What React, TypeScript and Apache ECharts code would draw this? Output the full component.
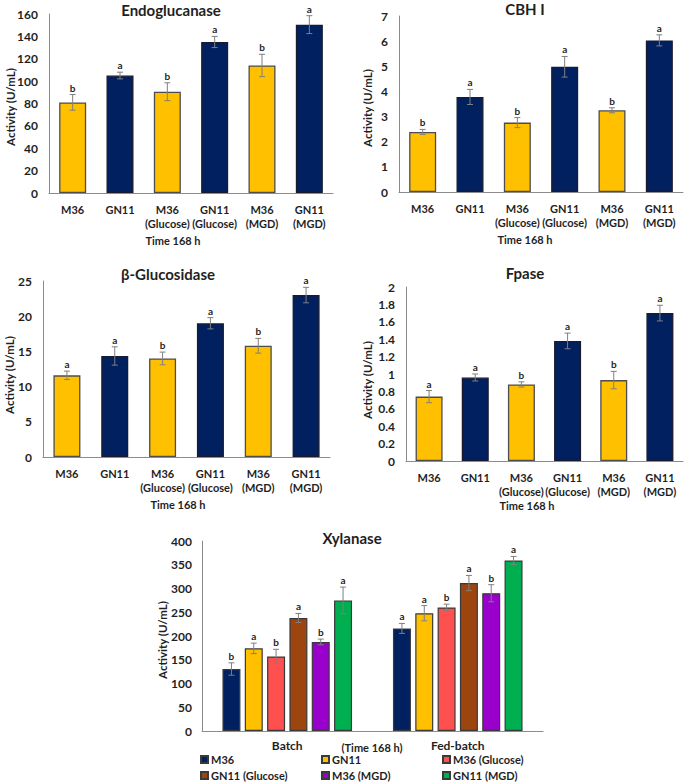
import React, { useEffect, useRef } from "react";
import * as echarts from "echarts";

// ---------- data ----------
const strainCategories = ["M36", "GN11", "M36\n(Glucose)", "GN11\n(Glucose)", "M36\n(MGD)", "GN11\n(MGD)"];
const strainIsGN11 = [false, true, false, true, false, true];

const endoValues = [81, 105, 90.5, 135, 114, 150.5];
const endoErrors = [7, 3, 8, 5, 10, 8];
const endoLetters = ["b", "a", "b", "a", "b", "a"];
const endoTicks = { min: 0, max: 160, interval: 20 };

const cbhValues = [2.39, 3.78, 2.76, 4.98, 3.25, 6.03];
const cbhErrors = [0.1, 0.3, 0.2, 0.41, 0.1, 0.22];
const cbhLetters = ["b", "a", "b", "a", "b", "a"];
const cbhTicks = { min: 0, max: 7, interval: 1 };

const bglValues = [11.6, 14.35, 14.0, 19.0, 15.8, 23.0];
const bglErrors = [0.6, 1.3, 0.9, 0.8, 1.05, 1.1];
const bglLetters = ["a", "a", "b", "a", "b", "a"];
const bglTicks = { min: 0, max: 25, interval: 5 };

const fpValues = [0.74, 0.96, 0.88, 1.38, 0.93, 1.7];
const fpErrors = [0.07, 0.04, 0.03, 0.09, 0.1, 0.09];
const fpLetters = ["a", "a", "b", "a", "b", "a"];
const fpTicks = { min: 0, max: 2, interval: 0.2 };

const xylCategories = ["Batch", "Fed-batch"];
const xylSeriesNames = ["M36", "GN11", "M36 (Glucose)", "GN11 (Glucose)", "M36 (MGD)", "GN11 (MGD)"];
const xylBatch = [130.5, 174, 157, 238, 187.5, 275];
const xylBatchErr = [13, 11, 15, 9.5, 6, 28];
const xylBatchLetters = ["b", "a", "b", "a", "b", "a"];
const xylFed = [216, 248, 260, 311.5, 290, 359];
const xylFedErr = [10.5, 16, 7, 16, 18, 8.5];
const xylFedLetters = ["a", "a", "b", "a", "b", "a"];
const xylTicks = { min: 0, max: 400, interval: 50 };

const panelTitles = ["Endoglucanase", "CBH I", "β-Glucosidase", "Fpase", "Xylanase"];
const yAxisTitle = "Activity (U/mL)";
const timeLabel = "Time 168 h";
const xylTimeLabel = "(Time 168 h)";

// ---------- styles ----------
const FONT = "Lato, 'Noto Sans', sans-serif";
const TXT = "#1f1f1f";
const NAVY = "#002060";
const GOLD = "#FFC000";
const xylColors = ["#002060", "#FFC000", "#FF5050", "#9C450F", "#9900CC", "#00B050"];
const AXIS = "#8c8c8c";
const ERR = "#7f7f7f";

const grids = [
  { left: 49, top: 14, width: 284, height: 179 },
  { left: 399, top: 16, width: 284, height: 176 },
  { left: 43, top: 281, width: 287, height: 176 },
  { left: 406, top: 287, width: 277, height: 174 },
  { left: 202, top: 541, width: 341, height: 190 },
];

function errSeries(gi: number, cats: number[], vals: number[], errs: number[], letters: string[], offset: number, cap: number) {
  return {
    type: "custom",
    xAxisIndex: gi,
    yAxisIndex: gi,
    silent: true,
    z: 10,
    data: vals.map((v, i) => [cats[i], v, errs[i]]),
    encode: { x: 0, y: 1 },
    renderItem: (params: any, api: any) => {
      const idx = api.value(0);
      const v = api.value(1);
      const e = api.value(2);
      const hi = api.coord([idx, v + e]);
      const lo = api.coord([idx, v - e]);
      const x = hi[0] + offset;
      const st = { stroke: ERR, lineWidth: 1 };
      return {
        type: "group",
        children: [
          { type: "line", shape: { x1: x, y1: hi[1], x2: x, y2: lo[1] }, style: st },
          { type: "line", shape: { x1: x - cap, y1: hi[1], x2: x + cap, y2: hi[1] }, style: st },
          { type: "line", shape: { x1: x - cap, y1: lo[1], x2: x + cap, y2: lo[1] }, style: st },
          {
            type: "text",
            x: x,
            y: hi[1] - 2,
            style: {
              text: letters[params.dataIndex],
              textAlign: "center",
              textVerticalAlign: "bottom",
              font: `bold 10px ${FONT}`,
              fill: TXT,
            },
          },
        ],
      };
    },
  };
}

function gtext(text: string, x: number, y: number, size: number, rotate = 0) {
  return {
    type: "text",
    x,
    y,
    rotation: rotate,
    style: {
      text,
      textAlign: "center",
      textVerticalAlign: "middle",
      font: `bold ${size}px ${FONT}`,
      fill: TXT,
    },
  };
}

export default function App() {
  const ref = useRef<HTMLDivElement>(null);
  useEffect(() => {
    if (!ref.current) return;
    const chart = echarts.init(ref.current, undefined, { renderer: "svg" });

    const panels = [
      { vals: endoValues, errs: endoErrors, letters: endoLetters, ticks: endoTicks },
      { vals: cbhValues, errs: cbhErrors, letters: cbhLetters, ticks: cbhTicks },
      { vals: bglValues, errs: bglErrors, letters: bglLetters, ticks: bglTicks },
      { vals: fpValues, errs: fpErrors, letters: fpLetters, ticks: fpTicks },
    ];

    const xAxes: any[] = [];
    const yAxes: any[] = [];
    const series: any[] = [];

    const axisLine = { show: true, lineStyle: { color: AXIS, width: 1 } };
    const yLabel = { fontFamily: FONT, fontWeight: "bold", fontSize: 12, color: TXT, margin: 11 };

    panels.forEach((p, gi) => {
      xAxes.push({
        type: "category",
        gridIndex: gi,
        data: strainCategories,
        axisLine,
        axisTick: { show: false },
        axisLabel: { interval: 0, fontFamily: FONT, fontWeight: "bold", fontSize: 11, color: TXT, margin: 9, lineHeight: 14 },
      });
      yAxes.push({
        type: "value",
        gridIndex: gi,
        min: p.ticks.min,
        max: p.ticks.max,
        interval: p.ticks.interval,
        axisLine,
        axisTick: { show: false },
        splitLine: { show: false },
        axisLabel: yLabel,
      });
      series.push({
        type: "bar",
        xAxisIndex: gi,
        yAxisIndex: gi,
        barWidth: 27,
        data: p.vals.map((v, i) => ({
          value: v,
          itemStyle: {
            color: strainIsGN11[i] ? NAVY : GOLD,
            borderColor: strainIsGN11[i] ? "#1a1a2e" : "#4d4d4d",
            borderWidth: 1.3,
          },
        })),
      });
      series.push(errSeries(gi, p.vals.map((_, i) => i), p.vals, p.errs, p.letters, 0, 3));
    });

    // Xylanase
    xAxes.push({
      type: "category",
      gridIndex: 4,
      data: xylCategories,
      axisLine,
      axisTick: { show: false },
      axisLabel: { interval: 0, fontFamily: FONT, fontWeight: "bold", fontSize: 12, color: TXT, margin: 8 },
    });
    yAxes.push({
      type: "value",
      gridIndex: 4,
      min: xylTicks.min,
      max: xylTicks.max,
      interval: xylTicks.interval,
      axisLine,
      axisTick: { show: false },
      splitLine: { show: false },
      axisLabel: { ...yLabel, margin: 10 },
    });
    const bw = 18;
    const gapPct = 0.24;
    const step = bw * (1 + gapPct);
    xylSeriesNames.forEach((name, k) => {
      series.push({
        type: "bar",
        name,
        xAxisIndex: 4,
        yAxisIndex: 4,
        barWidth: bw,
        barGap: `${gapPct * 100}%`,
        itemStyle: { color: xylColors[k], borderColor: "#3a3a3a", borderWidth: 1.2 },
        data: [xylBatch[k], xylFed[k]],
      });
    });
    xylSeriesNames.forEach((_, k) => {
      series.push(
        errSeries(4, [0, 1], [xylBatch[k], xylFed[k]], [xylBatchErr[k], xylFedErr[k]], [xylBatchLetters[k], xylFedLetters[k]], (k - 2.5) * step, 3)
      );
    });

    const legendCols = [200, 321, 442];
    const legendRows = [754, 770];
    const legends = xylSeriesNames.map((name, k) => ({
      data: [name],
      left: legendCols[k % 3],
      top: legendRows[Math.floor(k / 3)],
      padding: 0,
      icon: "rect",
      itemWidth: 7,
      itemHeight: 7,
      selectedMode: false,
      textStyle: { fontFamily: FONT, fontWeight: "bold", fontSize: 11, color: TXT, padding: [0, 0, 0, -2] },
    }));

    const graphics = [
      gtext(panelTitles[0], 171, 10, 15),
      gtext(panelTitles[1], 525, 9, 15),
      gtext(panelTitles[2], 168, 274, 15),
      gtext(panelTitles[3], 525, 273, 15),
      gtext(panelTitles[4], 352, 538, 15),
      gtext(yAxisTitle, 10, 107, 11.5, Math.PI / 2),
      gtext(yAxisTitle, 367, 108, 11.5, Math.PI / 2),
      gtext(yAxisTitle, 9, 375, 11.5, Math.PI / 2),
      gtext(yAxisTitle, 367, 380, 11.5, Math.PI / 2),
      gtext(yAxisTitle, 162, 640, 11.5, Math.PI / 2),
      gtext(timeLabel, 173, 240, 11),
      gtext(timeLabel, 525, 239, 11),
      gtext(timeLabel, 178, 504, 11),
      gtext(timeLabel, 527, 505, 11),
      gtext(xylTimeLabel, 372, 747, 11),
    ];

    chart.setOption({
      animation: false,
      backgroundColor: "#ffffff",
      grid: grids,
      xAxis: xAxes,
      yAxis: yAxes,
      series,
      legend: legends,
      graphic: { elements: graphics },
    });
    return () => chart.dispose();
  }, []);

  return <div ref={ref} style={{ position: "fixed", left: 0, top: 0, width: 685, height: 782 }} />;
}
